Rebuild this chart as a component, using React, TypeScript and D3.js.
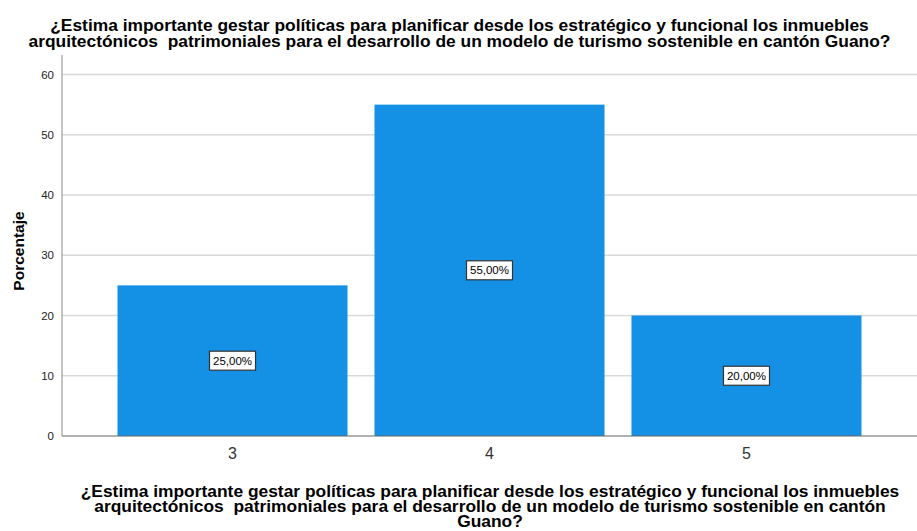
import React from "react";
import * as d3 from "d3";

const categories = ["3", "4", "5"];
const values = [25, 55, 20];
const valueLabels = ["25,00%", "55,00%", "20,00%"];
const yTicks = [0, 10, 20, 30, 40, 50, 60];
const titleLines = [
  "¿Estima importante gestar políticas para planificar desde los estratégico y funcional los inmuebles",
  "arquitectónicos  patrimoniales para el desarrollo de un modelo de turismo sostenible en cantón Guano?",
];
const xTitleLines = [
  "¿Estima importante gestar políticas para planificar desde los estratégico y funcional los inmuebles",
  "arquitectónicos  patrimoniales para el desarrollo de un modelo de turismo sostenible en cantón",
  "Guano?",
];
const yTitle = "Porcentaje";

const W = 917;
const H = 531;
const left = 62;
const right = 917;
const top = 55;
const bottom = 436;

export default function App() {
  const x = d3
    .scaleBand<string>()
    .domain(categories)
    .range([left, right])
    .paddingInner(0.105)
    .paddingOuter(0.216);
  const y = d3.scaleLinear().domain([0, 60]).range([bottom, 74.5]);
  const font = "Arial, 'Liberation Sans', sans-serif";

  return (
    <svg
      width={W}
      height={H}
      style={{ position: "absolute", left: 0, top: 0, background: "#fff" }}
      fontFamily={font}
    >
      <rect x={0} y={0} width={W} height={H} fill="#fff" />
      {titleLines.map((t, i) => (
        <text
          key={i}
          x={459.5}
          y={31 + i * 16}
          textAnchor="middle"
          fontSize={17.4}
          fontWeight="bold"
          fill="#000"
          style={{ whiteSpace: "pre" }}
        >
          {t}
        </text>
      ))}
      {yTicks.map((t) => (
        <g key={t}>
          {t > 0 && (
            <line x1={left} x2={right} y1={y(t)} y2={y(t)} stroke="#d9d9d9" strokeWidth={1.5} />
          )}
          <text
            x={54}
            y={y(t)}
            dy="0.35em"
            textAnchor="end"
            fontSize={11.5}
            fill="#222"
          >
            {t}
          </text>
        </g>
      ))}
      {categories.map((c, i) => {
        const bx = x(c)!;
        const bw = x.bandwidth();
        const by = y(values[i]);
        const cx = bx + bw / 2;
        const cy = (by + y(0)) / 2;
        const lw = 46;
        const lh = 19;
        return (
          <g key={c}>
            <rect x={bx} y={by} width={bw} height={y(0) - by} fill="#1490e5" />
            <rect
              x={cx - lw / 2}
              y={cy - lh / 2}
              width={lw}
              height={lh}
              fill="#fff"
              stroke="#333"
              strokeWidth={1.2}
            />
            <text x={cx} y={cy} dy="0.35em" textAnchor="middle" fontSize={11.5} fill="#000">
              {valueLabels[i]}
            </text>
            <text x={cx} y={453} dy="0.35em" textAnchor="middle" fontSize={16} fill="#333">
              {c}
            </text>
          </g>
        );
      })}
      <line x1={left} x2={left} y1={top} y2={bottom} stroke="#888" strokeWidth={1} />
      <line x1={left} x2={right} y1={bottom} y2={bottom} stroke="#666" strokeWidth={1.2} />
      <text
        transform={`translate(24, 251) rotate(-90)`}
        textAnchor="middle"
        fontSize={15.5}
        fontWeight="bold"
        fill="#000"
      >
        {yTitle}
      </text>
      {xTitleLines.map((t, i) => (
        <text
          key={i}
          x={490}
          y={497 + i * 15}
          textAnchor="middle"
          fontSize={17.4}
          fontWeight="bold"
          fill="#000"
          style={{ whiteSpace: "pre" }}
        >
          {t}
        </text>
      ))}
    </svg>
  );
}
